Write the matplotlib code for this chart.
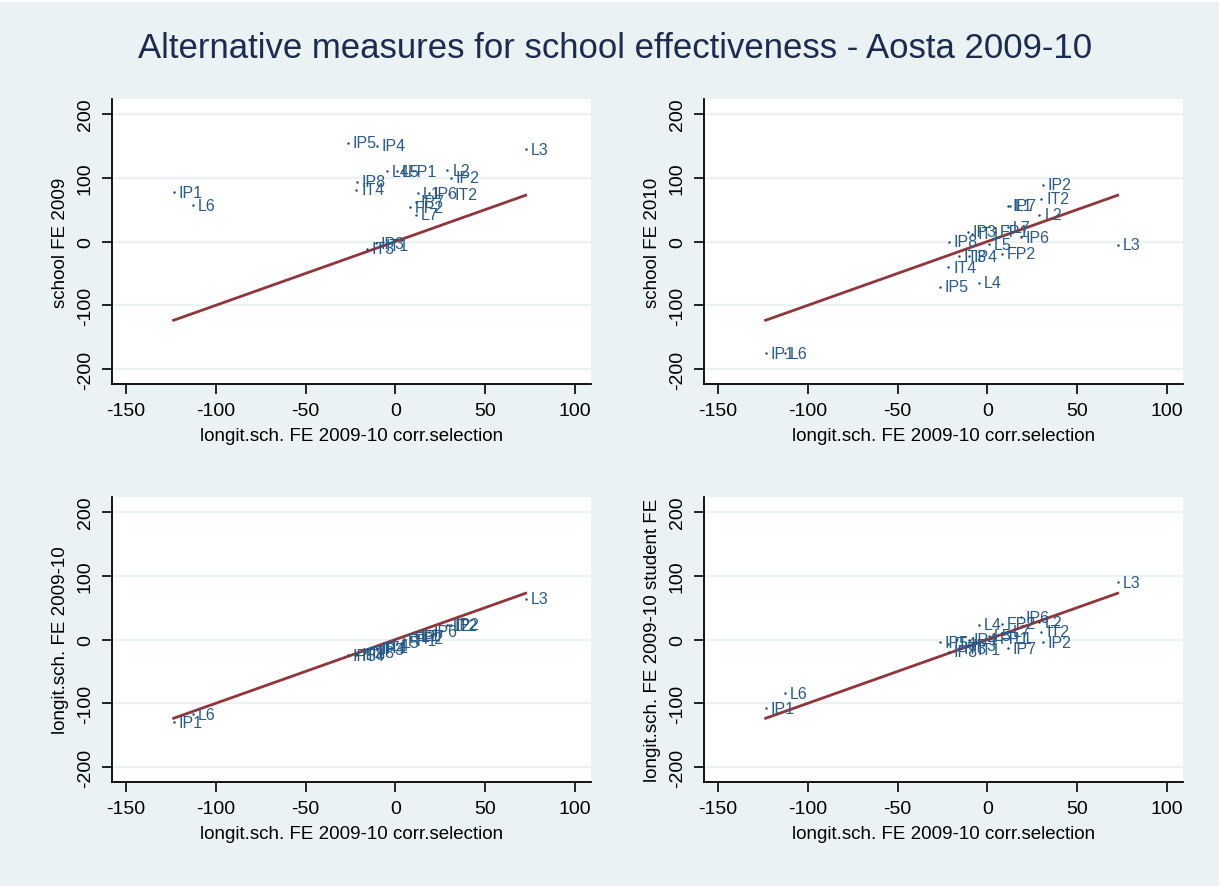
import matplotlib
matplotlib.use("Agg")
import matplotlib.pyplot as plt
from matplotlib.patches import Rectangle

# School codes
schools = ["IP1", "IP2", "IP3", "IP4", "IP5", "IP6", "IP7", "IP8",
           "IT1", "IT2", "IT3", "IT4",
           "L1", "L2", "L3", "L4", "L5", "L6", "L7",
           "FP1", "FP2"]

# Longitudinal school FE 2009-10, corrected for selection (x axis everywhere)
fe_long_corr = [-123.5, 30.7, -11.0, -10.5, -26.5, 18.5, 11.5, -21.5,
                -8.5, 30.0, -16.0, -21.8,
                12.5, 29.0, 72.5, -4.8, 0.7, -112.5, 11.2,
                4.0, 8.2]

# School FE 2009
fe_2009 = [77, 100, -3, 150, 155, 76, 62, 94,
           -6, 74, -11, 81,
           76, 112, 145, 110, 110, 57, 42,
           110, 54]

# School FE 2010
fe_2010 = [-175, 89, 15, -23, -71, 7, 56, 0,
           12, 67, -23, -40,
           56, 42, -5, -65, -4, -175, 22,
           15, -19]

# Longitudinal school FE 2009-10 (no selection correction)
fe_long = [-130, 23, -15, -14, -25, 12, 5, -23,
           -12, 22, -20, -25,
           6, 22, 64, -9, -5, -117, 5,
           -1, 2]

# Longitudinal school FE 2009-10 with student FE
fe_long_stud = [-108, -4, -10, 0, -4, 35, -14, -19,
                -15, 12, -14, -7,
                2, 27, 90, 23, 6, -84, 12,
                2, 25]

title = "Alternative measures for school effectiveness - Aosta 2009-10"
x_title = "longit.sch. FE 2009-10 corr.selection"
y_titles = ["school FE 2009", "school FE 2010",
            "longit.sch. FE 2009-10", "longit.sch. FE 2009-10 student FE"]
panels_y = [fe_2009, fe_2010, fe_long, fe_long_stud]

x_ticks = [-150, -100, -50, 0, 50, 100]
y_ticks = [-200, -100, 0, 100, 200]

BG = "#EAF2F3"
NAVY = "#1A476F"
LABEL_COL = "#2A5A86"
MAROON = "#90353B"

plt.rcParams["font.family"] = ["Liberation Sans", "DejaVu Sans"]
plt.rcParams["axes.unicode_minus"] = False

W, H = 1219, 887
fig = plt.figure(figsize=(W / 100, H / 100), dpi=100, facecolor=BG)

# thin white band along the top edge
fig.patches.append(Rectangle((0, 1 - 3 / H), 1, 3 / H, transform=fig.transFigure,
                             facecolor="white", edgecolor="none", zorder=-1))

fig.text(615 / W, 1 - 49 / H, title, ha="center", va="center",
         fontsize=25, color="#1C2B50")

lefts = [112, 704]
tops = [100, 498]
aw, ah = 479, 285

xs_min, xs_max = min(fe_long_corr), max(fe_long_corr)

for i, ys in enumerate(panels_y):
    r, c = divmod(i, 2)
    ax = fig.add_axes([lefts[c] / W, 1 - (tops[r] + ah) / H, aw / W, ah / H])
    ax.set_facecolor("white")
    ax.set_xlim(-157.8, 108.9)
    ax.set_ylim(-223.4, 223.4)
    for s in ("top", "right"):
        ax.spines[s].set_visible(False)
    for s in ("left", "bottom"):
        ax.spines[s].set_linewidth(1.3)
        ax.spines[s].set_color("black")
    ax.set_xticks(x_ticks)
    ax.set_yticks(y_ticks)
    ax.tick_params(axis="both", length=7, width=1.2, color="black",
                   labelsize=14, labelcolor="black", pad=6)
    for lab in ax.get_yticklabels():
        lab.set_rotation(90)
        lab.set_va("center")
    ax.grid(axis="y", color=BG, linewidth=1.6)
    ax.set_axisbelow(True)

    # 45-degree reference line over the observed range
    ax.plot([xs_min, xs_max], [xs_min, xs_max], color=MAROON, lw=2.0, zorder=2)

    ax.scatter(fe_long_corr, ys, s=3, color=NAVY, zorder=3, linewidths=0)
    for name, xv, yv in zip(schools, fe_long_corr, ys):
        ax.annotate(name, (xv, yv), xytext=(3.5, 0), textcoords="offset points",
                    ha="left", va="center", fontsize=11.5, color=LABEL_COL, zorder=4)

    ax.set_xlabel(x_title, fontsize=13.5, labelpad=6)
    ax.set_ylabel(y_titles[i], fontsize=13.5, labelpad=6)

fig.savefig("out.png", dpi=100, facecolor=BG)
